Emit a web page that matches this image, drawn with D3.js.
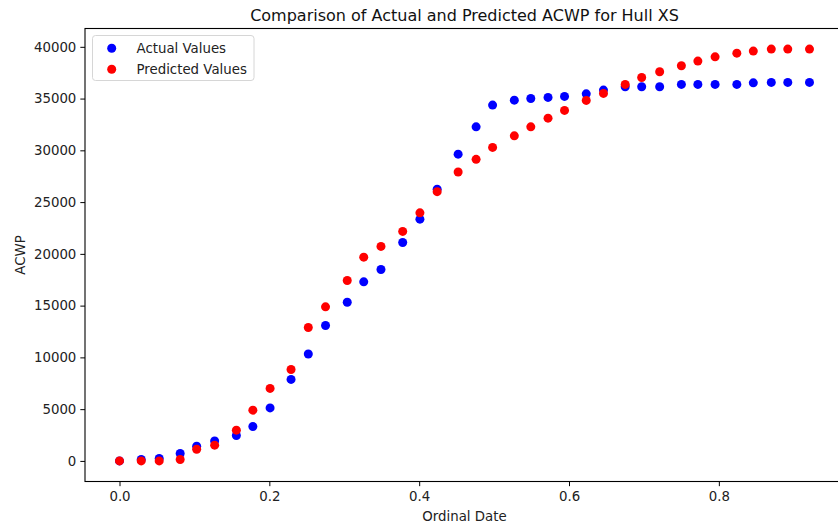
<!DOCTYPE html>
<html>
<head>
<meta charset="utf-8">
<script src="https://cdn.jsdelivr.net/npm/d3@7"></script>
<style>
  html, body { margin: 0; padding: 0; background: #fff; overflow: hidden; }
  svg { display: block; font-family: "DejaVu Sans", sans-serif; }
</style>
</head>
<body>
<svg id="chart" width="838" height="525"></svg>
<script>
// Normalised ordinal dates for each reporting period
const ordinalDates = [
  0.000, 0.029, 0.053, 0.081, 0.103, 0.127, 0.156, 0.178, 0.201, 0.229,
  0.252, 0.275, 0.304, 0.326, 0.349, 0.378, 0.401, 0.424, 0.452, 0.476,
  0.498, 0.527, 0.549, 0.572, 0.594, 0.623, 0.646, 0.675, 0.697, 0.721,
  0.750, 0.772, 0.795, 0.824, 0.846, 0.870, 0.892, 0.921
];

// Actual cost of work performed
const actualValues = [
  0, 135, 230, 715, 1420, 1930, 2450, 3320, 5120, 7870,
  10330, 13080, 15330, 17300, 18490, 21100, 23350, 26250, 29630, 32270,
  34370, 34850, 35010, 35110, 35210, 35460, 35820, 36140, 36140, 36140,
  36370, 36370, 36370, 36370, 36520, 36560, 36560, 36560
];

// Model prediction of the same quantity
const predictedValues = [
  0, 0, 0, 135, 1130, 1520, 2970, 4900, 7000, 8830,
  12890, 14880, 17430, 19680, 20720, 22170, 23960, 26010, 27910, 29130,
  30280, 31400, 32270, 33110, 33860, 34820, 35500, 36370, 37040, 37590,
  38170, 38620, 39030, 39390, 39590, 39780, 39780, 39780
];

const xTicks = [0.0, 0.2, 0.4, 0.6, 0.8];
const yTicks = [0, 5000, 10000, 15000, 20000, 25000, 30000, 35000, 40000];

const seriesNames = ["Actual Values", "Predicted Values"];
const seriesColors = ["#0000ff", "#ff0000"];

const svg = d3.select("#chart");
const plot = { left: 85, right: 844, top: 28.5, bottom: 481.5 };

// 5% padding on each side of the data range
function padded(extent) {
  const span = extent[1] - extent[0];
  return [extent[0] - span * 0.05, extent[1] + span * 0.05];
}
const allY = actualValues.concat(predictedValues);
const x = d3.scaleLinear()
  .domain(padded(d3.extent(ordinalDates)))
  .range([plot.left, plot.right]);
const y = d3.scaleLinear()
  .domain(padded(d3.extent(allY)))
  .range([plot.bottom, plot.top]);

const tickFont = "13.33px";

// Axes
const xAxis = d3.axisBottom(x).tickValues(xTicks).tickFormat(d3.format(".1f"))
  .tickSizeInner(4.67).tickSizeOuter(0).tickPadding(4);
const yAxis = d3.axisLeft(y).tickValues(yTicks).tickFormat(d => String(d))
  .tickSizeInner(4.67).tickSizeOuter(0).tickPadding(4);

const gx = svg.append("g").attr("transform", `translate(0,${plot.bottom})`).call(xAxis);
const gy = svg.append("g").attr("transform", `translate(${plot.left},0)`).call(yAxis);
[gx, gy].forEach(g => {
  g.select(".domain").remove();
  g.selectAll(".tick line").attr("stroke", "#000").attr("stroke-width", 1);
  g.selectAll(".tick text").attr("fill", "#222").style("font-size", tickFont)
    .style("font-family", "'DejaVu Sans', sans-serif");
});
gx.selectAll(".tick text").attr("dy", "0.8em");

// Points: actual first, predicted drawn on top
const pointGroups = [actualValues, predictedValues];
pointGroups.forEach((vals, si) => {
  svg.append("g").selectAll("circle")
    .data(vals.map((v, i) => [ordinalDates[i], v]))
    .join("circle")
    .attr("cx", d => x(d[0]))
    .attr("cy", d => y(d[1]))
    .attr("r", 4.5)
    .attr("fill", seriesColors[si]);
});

// Frame
svg.append("rect")
  .attr("x", plot.left).attr("y", plot.top)
  .attr("width", plot.right - plot.left).attr("height", plot.bottom - plot.top)
  .attr("fill", "none").attr("stroke", "#000").attr("stroke-width", 1.1);

// Title and axis labels
svg.append("text")
  .attr("x", (plot.left + plot.right) / 2).attr("y", 20.5)
  .attr("text-anchor", "middle").attr("fill", "#111")
  .style("font-size", "16px")
  .text("Comparison of Actual and Predicted ACWP for Hull XS");

svg.append("text")
  .attr("x", (plot.left + plot.right) / 2).attr("y", 521)
  .attr("text-anchor", "middle").attr("fill", "#222")
  .style("font-size", tickFont)
  .text("Ordinal Date");

svg.append("text")
  .attr("transform", `translate(24.5,${(plot.top + plot.bottom) / 2}) rotate(-90)`)
  .attr("text-anchor", "middle").attr("fill", "#222")
  .style("font-size", tickFont)
  .text("ACWP");

// Legend
const legend = svg.append("g");
legend.append("rect")
  .attr("x", 92.5).attr("y", 35.5).attr("width", 161.5).attr("height", 45)
  .attr("rx", 3).attr("fill", "#fff").attr("fill-opacity", 0.8)
  .attr("stroke", "#d6d6d6").attr("stroke-width", 1);
seriesNames.forEach((name, i) => {
  const cy = 48.3 + i * 21;
  legend.append("circle").attr("cx", 111.7).attr("cy", cy).attr("r", 4.5)
    .attr("fill", seriesColors[i]);
  legend.append("text").attr("x", 136.5).attr("y", cy).attr("dy", "0.35em")
    .attr("fill", "#222").style("font-size", tickFont).text(name);
});
</script>
</body>
</html>
